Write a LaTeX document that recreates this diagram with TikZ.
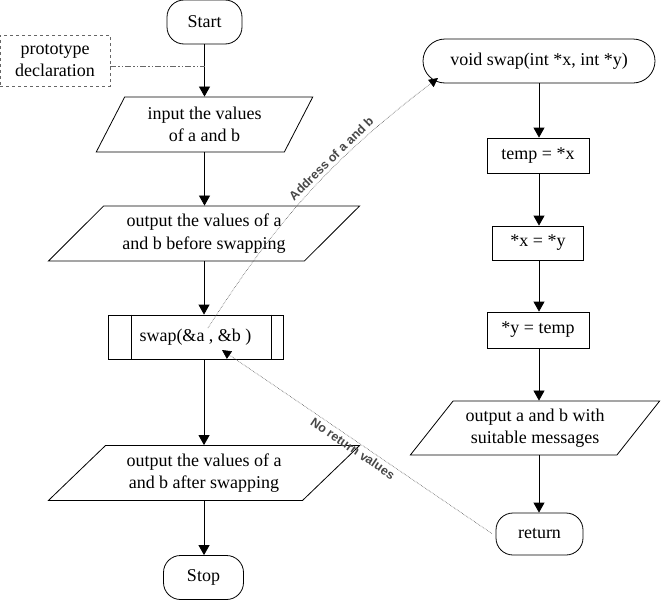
\documentclass[tikz,border=0pt]{standalone}
\usepackage{fontspec}
\setmainfont{Liberation Serif}
\newfontfamily\lblfont{Liberation Sans}
\usetikzlibrary{shapes.geometric,arrows.meta}
\begin{document}
\begin{tikzpicture}[x=1pt,y=-1pt,
  base/.style={draw, line width=0.8pt, align=center, font=\fontsize{18}{22.5}\selectfont, inner sep=0pt},
  term/.style={base, rectangle, rounded corners=17pt},
  procbox/.style={base, rectangle},
  io/.style={base, trapezium, trapezium stretches=true},
  flow/.style={line width=0.8pt, -{Triangle[width=11pt,length=10pt]}},
  note/.style={densely dotted, gray!70!black, line width=0.6pt, {Triangle[width=9pt,length=9pt,black]}-},
  noteend/.style={densely dotted, gray!70!black, line width=0.6pt, -{Triangle[width=9pt,length=9pt,black]}},
  lbl/.style={font=\lblfont\bfseries\fontsize{12.5}{14}\selectfont, text=black!72, sloped, inner sep=3pt},
  dashdot/.style={gray!80!black, line width=0.8pt, dash pattern=on 6pt off 2pt on 1.5pt off 2pt on 1.5pt off 2pt}
]
\useasboundingbox (0,0) rectangle (662,600);

% left column
\node[term, minimum width=75pt, minimum height=44pt] (start) at (204.5,22) {Start};
\node[base, dashed, draw=gray!80!black, minimum width=110pt, minimum height=51pt] (proto) at (55,60.5) {prototype\\declaration};
\node[io, trapezium left angle=60, trapezium right angle=120, minimum width=217pt, minimum height=55pt] (in) at (204.5,124.5) {input the values\\of a and b};
\node[io, trapezium left angle=41, trapezium right angle=139, minimum width=312pt, minimum height=55pt] (out1) at (204,233.5) {output the values of a\\and b before swapping};
\node[procbox, minimum width=175pt, minimum height=44pt] (swap) at (195.5,337) {swap(\&a , \&b )};
\draw[line width=0.8pt] ([xshift=24pt]swap.north west) -- ([xshift=24pt]swap.south west);
\draw[line width=0.8pt] ([xshift=-12pt]swap.north east) -- ([xshift=-12pt]swap.south east);
\node[io, trapezium left angle=41, trapezium right angle=139, minimum width=312pt, minimum height=55pt] (out2) at (204,473) {output the values of a\\and b after swapping};
\node[term, minimum width=80pt, minimum height=44pt] (stop) at (203.5,577.5) {Stop};

% right column
\node[term, rounded corners=22pt, minimum width=232pt, minimum height=44pt] (fn) at (539,61) {void swap(int *x, int *y)};
\node[procbox, minimum width=102pt, minimum height=35pt] (t1) at (538,155.5) {temp = *x};
\node[procbox, minimum width=91pt, minimum height=34pt] (t2) at (538,243) {*x = *y};
\node[procbox, minimum width=102pt, minimum height=36pt] (t3) at (538,330) {*y = temp};
\node[io, trapezium left angle=47, trapezium right angle=133, minimum width=250pt, minimum height=54pt] (outab) at (535,428) {output a and b with\\suitable messages};
\node[term, minimum width=87pt, minimum height=42pt] (ret) at (539.5,534) {return};

% flow connectors
\draw[flow] (start.south) -- (start.south |- in.north);
\draw[flow] (in.south) -- (in.south |- out1.north);
\draw[flow] (out1.south) -- (out1.south |- swap.north);
\draw[flow] (out1.south |- swap.south) -- (out1.south |- out2.north);
\draw[flow] (out2.south) -- (out2.south |- stop.north);

\draw[flow] (fn.south) -- (fn.south |- t1.north);
\draw[flow] (fn.south |- t1.south) -- (fn.south |- t2.north);
\draw[flow] (fn.south |- t2.south) -- (fn.south |- t3.north);
\draw[flow] (fn.south |- t3.south) -- (fn.south |- outab.north);
\draw[flow] (fn.south |- outab.south) -- (fn.south |- ret.north);

% prototype link
\path (0,66) coordinate (ylev);
\draw[dashdot] (proto.east |- ylev) -- (start.south |- ylev);

% dotted annotations
\coordinate (aStart) at ([xshift=12.5pt,yshift=9pt]swap.center);
\coordinate (aEnd) at ([xshift=-101pt,yshift=-17pt]fn.center);
\draw[noteend] (aStart) to[bend left=10] node[lbl, above, pos=0.62] {Address of a and b} (aEnd);

\coordinate (rEnd) at ([xshift=26.5pt,yshift=-13pt]swap.center);
\draw[note] (rEnd) -- node[lbl, below, pos=0.5] {No return values} ([xshift=-3pt]ret.west);
\end{tikzpicture}
\end{document}
